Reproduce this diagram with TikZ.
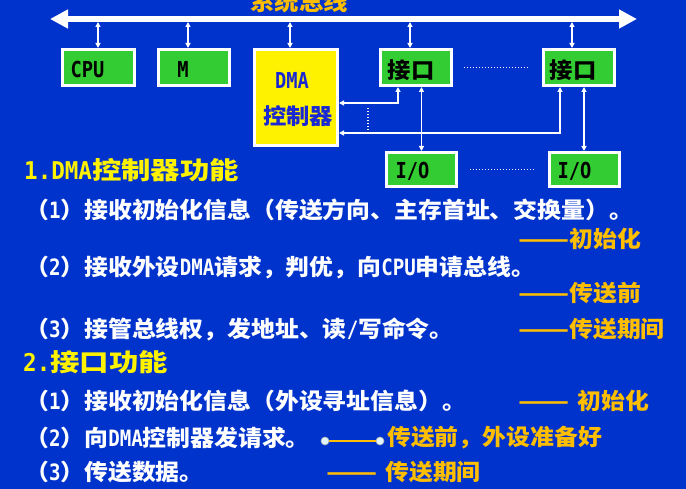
\documentclass[tikz,border=0pt]{standalone}
\usepackage{fontspec}
\usepackage{graphicx}
\setmainfont{Noto Sans CJK SC}
\newfontfamily\cjkW{Noto Sans CJK SC}[FakeStretch=1.06]
\newfontfamily\cjkH{Noto Sans CJK SC}[FakeStretch=1.2]
\newfontfamily\latn{DejaVu Sans Mono}[FakeStretch=0.85]
\newfontfamily\latnH{DejaVu Sans Mono}[FakeStretch=0.92]
\usetikzlibrary{arrows.meta}

\definecolor{bgblue}{RGB}{0,51,204}
\definecolor{boxgreen}{RGB}{51,204,51}
\definecolor{noteorange}{RGB}{255,190,0}
\definecolor{dmablue}{RGB}{25,40,210}

% body text, headings, half-width Latin runs, long dash
\newcommand\fw[1]{\fontsize{#1}{#1}\selectfont\cjkW\bfseries}
\newcommand\fh[1]{\fontsize{#1}{#1}\selectfont\cjkH\bfseries}
\newcommand\ltn[1]{{\latn\bfseries #1}}
\newcommand\ltnH[1]{{\latnH\bfseries #1}}
\newcommand\longdash{\scalebox{1.25}[1]{——}}

\begin{document}
\begin{tikzpicture}[x=1pt,y=-1pt,
  box/.style={draw=white, line width=3pt, fill=boxgreen, inner sep=0pt,
              minimum width=71pt, minimum height=36pt},
  lbl/.style={inner sep=0pt, text=black, font=\fw{22}},
  bus/.style={white, line width=5.5pt,
              {Triangle[length=18pt,width=18pt]}-{Triangle[length=18pt,width=18pt]}},
  conn/.style={white, line width=1.4pt,
               {Triangle[length=5pt,width=5pt]}-{Triangle[length=5pt,width=5pt]}},
  dots/.style={white, line width=1.3pt, dash pattern=on 1.3pt off 1.7pt},
  txt/.style={anchor=west, inner sep=0pt, text=white, font=\fw{22.5}},
  note/.style={anchor=west, inner sep=0pt, text=noteorange, font=\fw{22.5}},
  head/.style={anchor=west, inner sep=0pt, text=yellow, font=\fh{24.5}},
  handle/.style={circle, draw=gray!60, fill=white!88!cyan, line width=0.6pt,
                 inner sep=0pt, minimum size=8pt},
  orline/.style={noteorange, line width=1.8pt}]

\useasboundingbox (0,0) rectangle (686,489);
\fill[bgblue] (0,0) rectangle (686,489);

% system bus
\coordinate (busL) at (50,19);
\coordinate (busR) at (637,19);
\draw[bus] (busL) -- (busR);
\node[note, anchor=base, font=\fw{23}] (busT) at (299,10.5) {系统总线};

% modules on the bus
\node[box, minimum width=72pt] (cpu) at (98.5,67.5) {};
\node[lbl] (cpuT) at (87.5,69.5) {\ltn{CPU}};
\node[box] (mem) at (194,67.5) {};
\node[lbl] (memT) at (183,69.5) {\ltn{M}};
\node[box, fill=yellow, minimum width=83pt, minimum height=96pt] (dma) at (296,97.5) {};
\node[lbl, text=dmablue] (dmaT1) at (292,80.5) {\ltn{DMA}};
\node[lbl, text=dmablue] (dmaT2) at (298,116) {控制器};
\node[box] (k1) at (416,67.5) {};
\node[lbl] (k1T) at (411,70) {接口};
\node[box] (k2) at (579,67.5) {};
\node[lbl] (k2T) at (573,70) {接口};
\node[box, minimum width=70pt, minimum height=34pt] (io1) at (421.5,169.5) {};
\node[lbl] (io1T) at (412.5,171) {\ltn{I/O}};
\node[box, minimum width=70pt, minimum height=34pt] (io2) at (584,169.5) {};
\node[lbl] (io2T) at (574.5,171) {\ltn{I/O}};

% bus taps
\coordinate (tapCPU) at (98,22);
\coordinate (tapM) at (188,22);
\coordinate (tapDMA) at (290,22);
\coordinate (tapK1) at (410,22);
\coordinate (tapK2) at (572,22);
\draw[conn] (tapCPU) -- (tapCPU |- cpu.north);
\draw[conn] (tapM) -- (tapM |- mem.north);
\draw[conn] (tapDMA) -- (tapDMA |- dma.north);
\draw[conn] (tapK1) -- (tapK1 |- k1.north);
\draw[conn] (tapK2) -- (tapK2 |- k2.north);

% request / acknowledge lines between interfaces and the DMA controller
\draw[conn] ([xshift=-18pt]k1.south) |- (dma.east |- 0,103);
\draw[conn] ([xshift=-19pt]k2.south) |- (dma.east |- 0,133);
\draw[dots] (368,108) -- (368,130);

% interface to device
\draw[conn] (io1.north |- k1.south) -- (io1.north);
\draw[conn] (io2.north |- k2.south) -- (io2.north);

% ellipsis between repeated units
\draw[dots] ([xshift=11pt]k1.east) -- ([xshift=-14pt]k2.west);
\draw[dots] ([xshift=12pt]io1.east) -- ([xshift=-13pt]io2.west);

% text
\node[head] (h1) at (24,170) {\ltnH{1.DMA}控制器功能};
\node[txt] (a1) at (25,210) {（\ltn{1}）接收初始化信息（传送方向、主存首址、交换量）。};
\node[note] (a1n) at (518,239) {\longdash 初始化};
\node[txt] (a2) at (25,268) {（\ltn{2}）接收外设\ltn{DMA}请求，判优，向\ltn{CPU}申请总线。};
\node[note] (a2n) at (518,293) {\longdash 传送前};
\node[txt] (a3) at (25,329) {（\ltn{3}）接管总线权，发地址、读\ltn{/}写命令。};
\node[note] (a3n) at (518,329) {\longdash 传送期间};

\node[head] (h2) at (23,362) {\ltnH{2.}接口功能};
\node[txt] (b1) at (25,401) {（\ltn{1}）接收初始化信息（外设寻址信息）。};
\node[note] (b1n) at (518,401) {\longdash\hspace{8pt}初始化};
\node[txt] (b2) at (25,438) {（\ltn{2}）向\ltn{DMA}控制器发请求。};
\node[handle] (hA) at (325,441) {};
\node[handle] (hB) at (380,441) {};
\draw[orline] (hA) -- (hB);
\node[note] (b2n) at (387,438) {传送前，外设准备好};
\node[txt] (b3) at (25,472) {（\ltn{3}）传送数据。};
\node[note] (b3n) at (326,472) {\longdash\hspace{8pt}传送期间};
\end{tikzpicture}
\end{document}
